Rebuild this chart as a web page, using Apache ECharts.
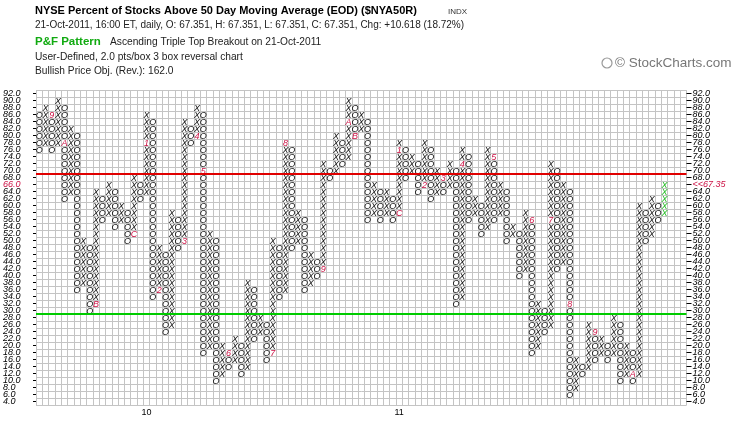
<!DOCTYPE html>
<html><head><meta charset="utf-8">
<script src="https://cdn.jsdelivr.net/npm/echarts@6/dist/echarts.min.js"></script>
<style>html,body{margin:0;padding:0;background:#fff}#c{width:745px;height:426px}</style>
</head><body><div id="c"></div><script>
// ---- P&F columns (1..100), box size 2 ----
const colTypes = 'OXOXOXOXOXOXOXOXOXOXOXOXOXOXOXOXOXOXOXOXOXOXOXOXOXOXOXOXOXOXOXOXOXOXOXOXOXOXOXOXOXOXOXOXOXOXOXOXOXOX'.split('');
const colFrom = [86,78,86,78,88,64,80,38,48,32, 62,58,64,56,58,52,66,64,84,36, 46,26,56,50,82,80,86,20,50,12,
                 18,16,20,14,36,24,26,18,48,36, 76,50,56,38,44,42,70,70,78,74, 88,82,84,58,64,58,62,58,76,70,
                 72,66,76,64,68,66,70,34,74,58, 60,54,74,58,64,52,52,42,56,20, 30,26,70,44,64,8,14,14,24,18,
                 20,18,26,12,18,12,58,52,60,58];
const colTo   = [76,88,76,90,62,82,36,50,30,64, 56,66,54,60,50,68,62,86,34,48, 24,58,48,84,78,88,18,52,10,20,
                 14,22,12,38,22,28,16,50,34,78, 48,58,36,46,40,72,68,80,72,90, 80,86,56,66,56,64,56,78,68,74,
                 64,78,62,70,64,72,32,76,56,62, 52,76,56,66,50,54,40,58,18,32, 24,72,42,66,6,16,12,26,16,22,
                 16,28,10,20,10,60,50,62,56,66];
// month markers (column, box value, label)
const monthCols = [3,5,10,16,18,20,24,26,27,31,38,40,46,50,51,58,58,62,65,68,73,79,82,85,89,95];
const monthRows = [86,78,32,52,78,36,50,80,70,18,18,78,42,84,80,58,76,66,68,72,74,56,56,32,24,12];
const monthText = ['9','A','B','C','1','2','3','4','5','6','7','8','9','A','B','C','1','2','3','4','5','6','7','8','9','A'];
// axis labels
const yLabels = ['4.0','6.0','8.0','10.0','12.0','14.0','16.0','18.0','20.0','22.0','24.0','26.0','28.0','30.0',
  '32.0','34.0','36.0','38.0','40.0','42.0','44.0','46.0','48.0','50.0','52.0','54.0','56.0','58.0','60.0','62.0',
  '64.0','66.0','68.0','70.0','72.0','74.0','76.0','78.0','80.0','82.0','84.0','86.0','88.0','90.0','92.0'];
const yearCols = [18, 58];
const yearText = ['10', '11'];
const lastPrice = 67.35;
const levels = [70, 30];      // red (overbought) and green (oversold) lines
const totalCols = 103;

// ---- build boxes ----
const boxes = [], boxText = [];
for (let i = 0; i < colTypes.length; i++) {
  const a = colFrom[i], b = colTo[i], step = b >= a ? 2 : -2;
  for (let v = a; step > 0 ? v <= b : v >= b; v += step) {
    let mi = -1;
    for (let k = 0; k < monthCols.length; k++) if (monthCols[k] === i + 1 && monthRows[k] === v) mi = k;
    const kind = mi >= 0 ? 1 : (i === colTypes.length - 1 ? 2 : 0);
    boxes.push([i + 0.5, v, kind]);
    boxText.push(mi >= 0 ? monthText[mi] : colTypes[i]);
  }
}
const priceRow = (Math.floor(lastPrice / 2) * 2).toFixed(1);
const xCats = [];
for (let i = 0; i < totalCols; i++) { const k = yearCols.indexOf(i + 1); xCats.push(k >= 0 ? yearText[k] : ''); }

const RED = '#cc1144', GRIDC = '#c4c4c4';
const chart = echarts.init(document.getElementById('c'), null, {renderer: 'canvas'});
const txt = (x, y, text, font, fill) => ({type: 'text', x: x, y: y, silent: true,
  style: {text: text, font: font, fill: fill || '#000', align: 'left', verticalAlign: 'middle'}});
chart.setOption({
  animation: false,
  backgroundColor: '#fff',
  grid: {left: 34.5, top: 90.2, width: 652, height: 315, containLabel: false},
  xAxis: [
    {type: 'value', min: 0, max: totalCols, interval: 1, axisLabel: {show: false}, axisTick: {show: false},
     axisLine: {show: false}, splitLine: {show: true, lineStyle: {color: GRIDC, width: 1}}},
    {type: 'category', position: 'bottom', data: xCats, boundaryGap: true, axisLine: {show: false},
     splitLine: {show: false},
     axisTick: {show: false}, axisLabel: {interval: 0, margin: 3, fontSize: 9, color: '#000', fontFamily: 'Liberation Sans'}}
  ],
  yAxis: [
    {type: 'value', min: 3, max: 93, interval: 2, axisLabel: {show: false}, axisTick: {show: false},
     axisLine: {show: false}, splitLine: {show: true, lineStyle: {color: GRIDC, width: 1}}},
    {type: 'category', position: 'left', data: yLabels, boundaryGap: true, axisLine: {show: false},
     axisTick: {show: true, interval: 0, alignWithLabel: true, length: 3, lineStyle: {color: '#000'}},
     splitLine: {show: false},
     axisLabel: {interval: 0, align: 'left', margin: 33, fontSize: 9, fontStyle: 'italic', color: '#000',
       fontFamily: 'Liberation Sans',
       formatter: v => v === priceRow ? '{r|' + v + '}' : v,
       rich: {r: {color: RED, fontSize: 9, fontStyle: 'italic', fontFamily: 'Liberation Sans'}}}},
    {type: 'category', position: 'right', data: yLabels, boundaryGap: true, axisLine: {show: false},
     axisTick: {show: true, interval: 0, alignWithLabel: true, length: 5, lineStyle: {color: '#000'}},
     splitLine: {show: false},
     axisLabel: {interval: 0, align: 'left', margin: 6, fontSize: 9, fontStyle: 'italic', color: '#000',
       fontFamily: 'Liberation Sans',
       formatter: v => v === priceRow ? '{r|<<' + lastPrice.toFixed(2) + '}' : v,
       rich: {r: {color: RED, fontSize: 9, fontStyle: 'italic', fontFamily: 'Liberation Sans'}}}}
  ],
  series: [
    {type: 'line', xAxisIndex: 0, yAxisIndex: 0, data: [], silent: true,
     markLine: {silent: true, symbol: 'none', label: {show: false}, animation: false,
       data: [
         {yAxis: levels[0] - 1, lineStyle: {color: '#e00000', width: 2, type: 'solid'}},
         {yAxis: levels[1] - 1, lineStyle: {color: '#00cc00', width: 2, type: 'solid'}}
       ]}},
    {type: 'custom', xAxisIndex: 0, yAxisIndex: 0, data: boxes, silent: true,
     renderItem: (p, api) => {
       const pt = api.coord([api.value(0), api.value(1)]);
       const k = api.value(2);
       return {type: 'text', x: pt[0], y: pt[1] + 0.5, style: {text: boxText[p.dataIndex],
         fill: k === 1 ? RED : (k === 2 ? '#22bb22' : '#111'),
         font: 'italic 9px "Liberation Sans"', align: 'center', verticalAlign: 'middle'}};
     }}
  ],
  graphic: [
    txt(35, 11, 'NYSE Percent of Stocks Above 50 Day Moving Average (EOD) ($NYA50R)', 'bold 11px "Liberation Sans"'),
    txt(448, 12, 'INDX', '8px "Liberation Sans"', '#333'),
    txt(35, 25, '21-Oct-2011, 16:00 ET, daily, O: 67.351, H: 67.351, L: 67.351, C: 67.351, Chg: +10.618 (18.72%)', '10px "Liberation Sans"', '#222'),
    txt(35, 42, 'P&F Pattern', 'bold 11.5px "Liberation Sans"', '#11aa11'),
    txt(110, 42, 'Ascending Triple Top Breakout on 21-Oct-2011', '10.2px "Liberation Sans"', '#222'),
    txt(35, 57, 'User-Defined, 2.0 pts/box 3 box reversal chart', '10.2px "Liberation Sans"', '#222'),
    txt(35, 71, 'Bullish Price Obj. (Rev.): 162.0', '10.2px "Liberation Sans"', '#222'),
    {type: 'circle', shape: {cx: 607, cy: 63, r: 5}, silent: true, style: {fill: 'none', stroke: '#999', lineWidth: 1.2}},
    txt(615, 63, '© StockCharts.com', '13.5px "Liberation Sans"', '#777')
  ]
});
</script></body></html>
